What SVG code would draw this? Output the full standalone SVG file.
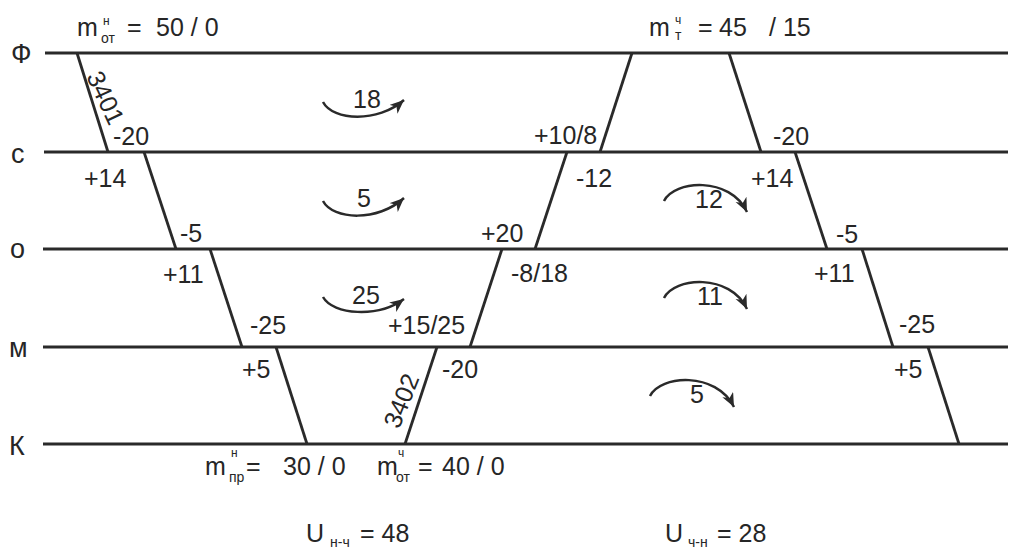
<svg xmlns="http://www.w3.org/2000/svg" width="1011" height="551" viewBox="0 0 1011 551">
<style>
text{font-family:"Liberation Sans",Arial,sans-serif;fill:#262626;font-size:25px}
.ax{font-size:27px}
.sm{font-size:12px}
.sub{font-size:14px}
.h{stroke:#2a2a2a;stroke-width:3;fill:none}
.s{stroke:#2a2a2a;stroke-width:2.8;fill:none}
.a{stroke:#2a2a2a;stroke-width:2.5;fill:none;marker-end:url(#ah)}
</style>
<defs>
<marker id="ah" markerUnits="userSpaceOnUse" markerWidth="16" markerHeight="14" refX="14" refY="6" orient="auto">
<path d="M0,0 L14,6 L0,12 L4,6 z" fill="#2a2a2a"/>
</marker>
</defs>
<rect width="1011" height="551" fill="#fff"/>
<g id="levels">
<line class="h" x1="45" y1="53" x2="1008" y2="53"/>
<line class="h" x1="44" y1="152" x2="1008" y2="152"/>
<line class="h" x1="43" y1="249" x2="1008" y2="249"/>
<line class="h" x1="43" y1="347" x2="1008" y2="347"/>
<line class="h" x1="43" y1="444" x2="1008" y2="444"/>
</g>
<g id="level-labels">
<text class="ax" x="11" y="63">Ф</text>
<text class="ax" x="11" y="163">с</text>
<text class="ax" x="10" y="258">о</text>
<text class="ax" x="9" y="357">м</text>
<text class="ax" x="9" y="455">К</text>
</g>
<g id="connectors">
<line class="s" x1="77" y1="53" x2="108" y2="152"/>
<line class="s" x1="144" y1="152" x2="176" y2="249"/>
<line class="s" x1="210" y1="249" x2="242" y2="347"/>
<line class="s" x1="276" y1="347" x2="307" y2="444"/>
<line class="s" x1="632" y1="53" x2="600" y2="152"/>
<line class="s" x1="567" y1="152" x2="535" y2="249"/>
<line class="s" x1="502" y1="249" x2="470" y2="347"/>
<line class="s" x1="437" y1="347" x2="405" y2="444"/>
<line class="s" x1="729" y1="53" x2="761" y2="152"/>
<line class="s" x1="795" y1="152" x2="827" y2="249"/>
<line class="s" x1="862" y1="249" x2="893" y2="347"/>
<line class="s" x1="928" y1="347" x2="959" y2="444"/>
<path class="a" d="M323,102 C333,121 378,123 404,100"/>
<path class="a" d="M323,201 C333,220 378,222 404,198"/>
<path class="a" d="M323,297 C333,315 378,318 404,299"/>
<path class="a" d="M664,201 C674,180 730,176 747,212"/>
<path class="a" d="M664,298 C674,277 730,273 747,309"/>
<path class="a" d="M650,396 C660,375 716,371 734,407"/>
</g>
<g id="flow-labels">
<text x="353" y="108">18</text>
<text x="357" y="207">5</text>
<text x="352" y="304">25</text>
<text x="695" y="208">12</text>
<text x="697" y="305">11</text>
<text x="690" y="403">5</text>
</g>
<g id="left-chain-labels">
<text transform="translate(105,98) rotate(65)" y="8" text-anchor="middle">3401</text>
<text x="113" y="145">-20</text>
<text x="84" y="187">+14</text>
<text x="180" y="242">-5</text>
<text x="163" y="283">+11</text>
<text x="250" y="334">-25</text>
<text x="242" y="378">+5</text>
</g>
<g id="middle-chain-labels">
<text x="534" y="144">+10/8</text>
<text x="576" y="187">-12</text>
<text x="481" y="242">+20</text>
<text x="511" y="282">-8/18</text>
<text x="388" y="334">+15/25</text>
<text x="442" y="378">-20</text>
<text transform="translate(402,401) rotate(-68)" y="8" text-anchor="middle">3402</text>
</g>
<g id="right-chain-labels">
<text x="773" y="145">-20</text>
<text x="751" y="187">+14</text>
<text x="836" y="243">-5</text>
<text x="814" y="282">+11</text>
<text x="899" y="333">-25</text>
<text x="894" y="378">+5</text>
</g>
<g id="top-left-label">
<text x="77" y="36">m</text>
<text class="sm" x="103" y="25">н</text>
<text class="sub" x="101" y="43">от</text>
<text x="127" y="36">=</text>
<text x="156" y="36">50 / 0</text>
</g>
<g id="top-right-label">
<text x="649" y="36">m</text>
<text class="sm" x="675" y="24">ч</text>
<text class="sub" x="675" y="40">т</text>
<text x="698" y="36">=</text>
<text x="719" y="36">45</text>
<text x="769" y="36">/ 15</text>
</g>
<g id="bottom-labels">
<text x="205" y="475">m</text>
<text class="sm" x="231" y="457">н</text>
<text class="sub" x="229" y="482">пр</text>
<text x="246" y="475">=</text>
<text x="283" y="475">30 / 0</text>
<text x="377" y="475">m</text>
<text class="sm" x="398" y="457">ч</text>
<text class="sub" x="396" y="482">от</text>
<text x="418" y="475">=</text>
<text x="442" y="475">40 / 0</text>
</g>
<g id="speed-labels">
<text x="306" y="542">U</text>
<text class="sub" x="330" y="547">н-ч</text>
<text x="360" y="542">= 48</text>
<text x="665" y="542">U</text>
<text class="sub" x="688" y="547">ч-н</text>
<text x="717" y="542">= 28</text>
</g>
</svg>
